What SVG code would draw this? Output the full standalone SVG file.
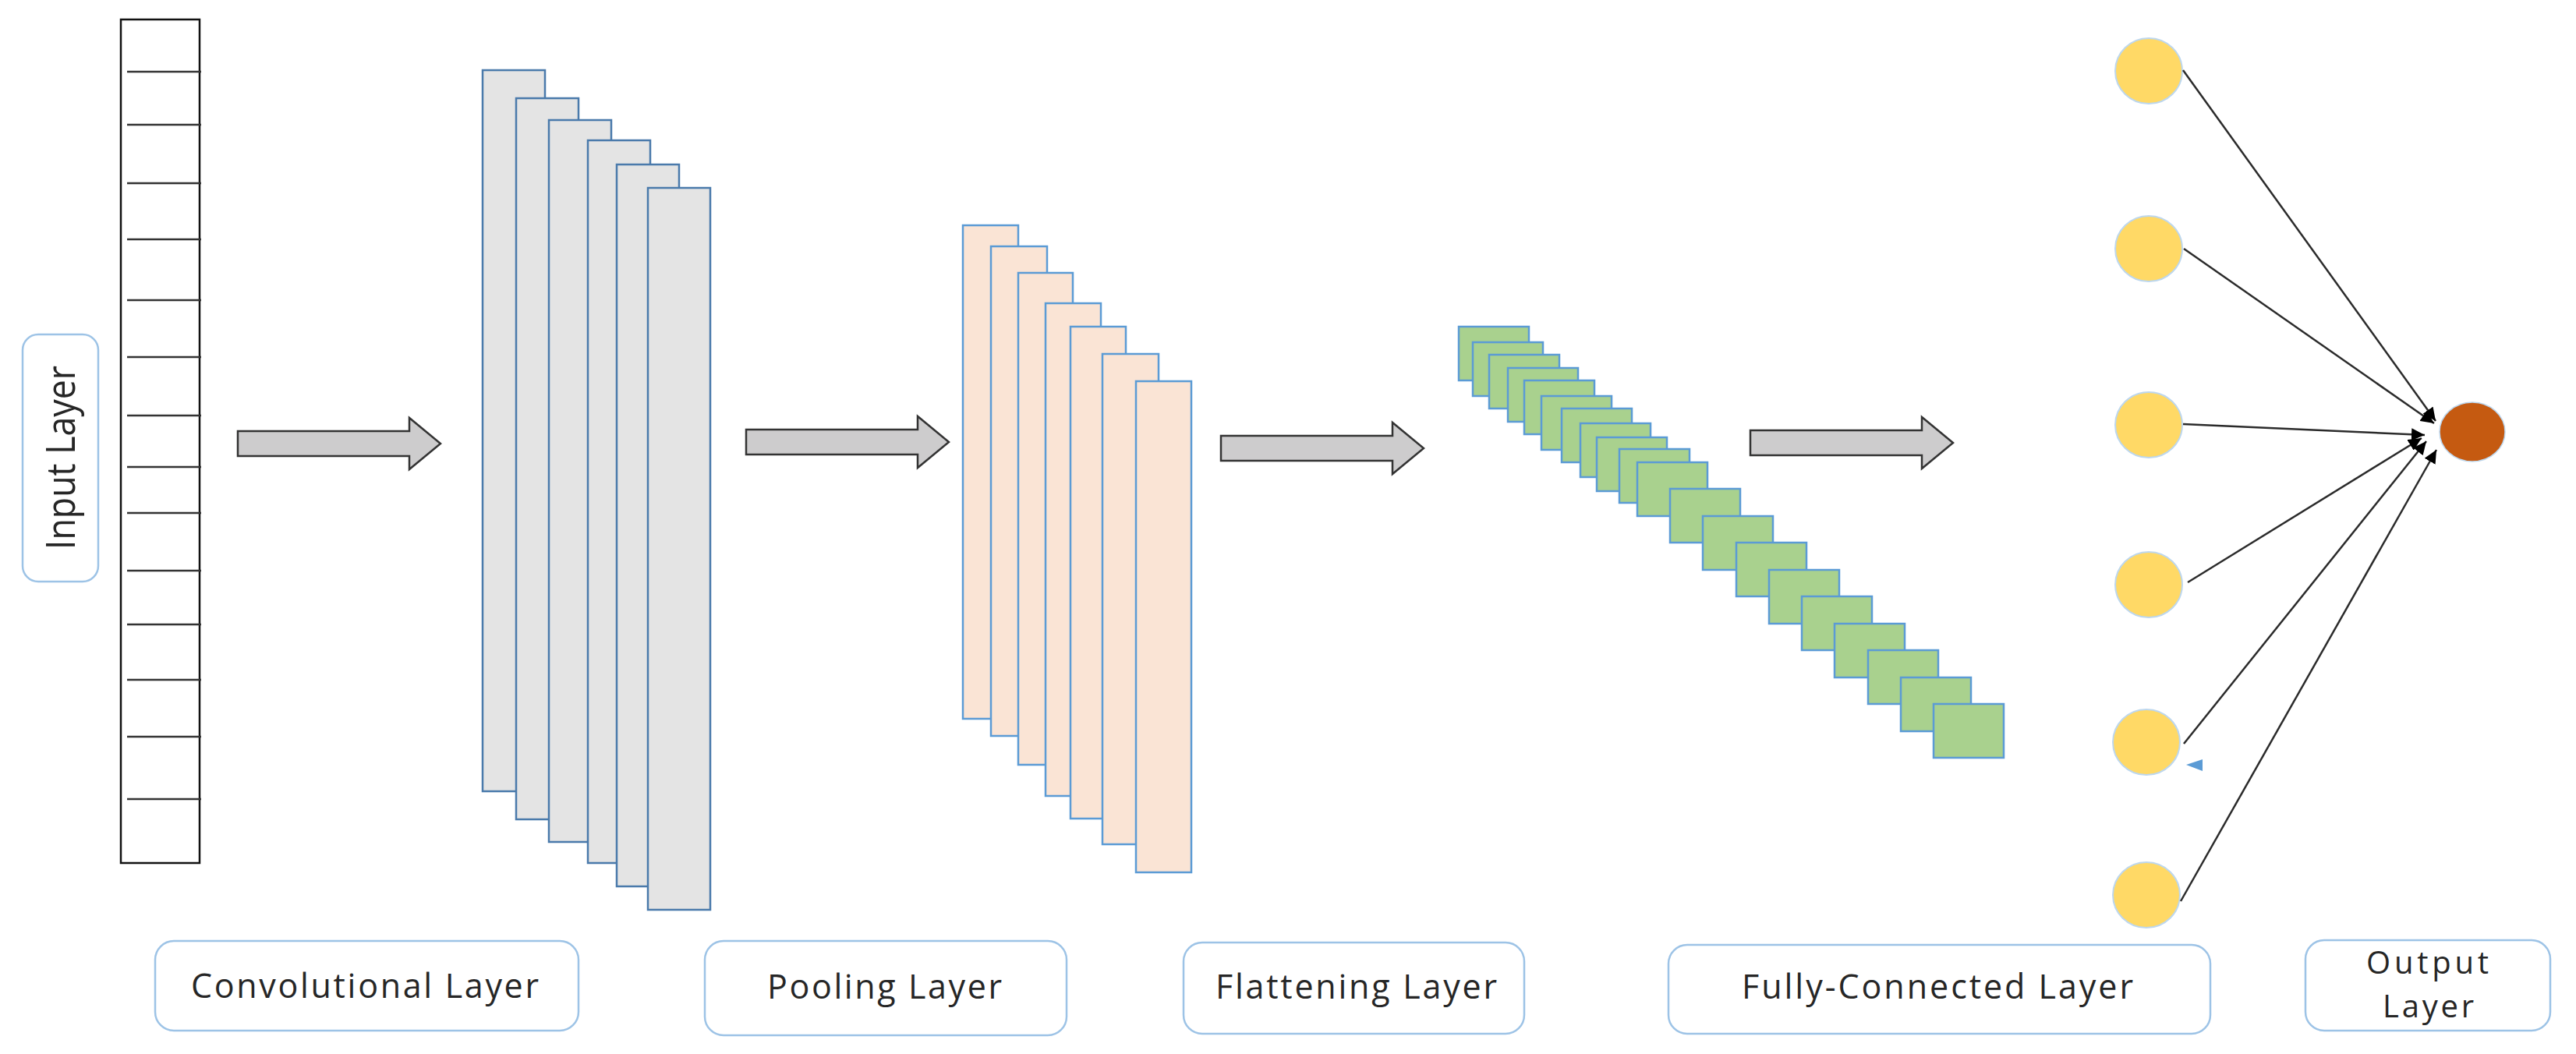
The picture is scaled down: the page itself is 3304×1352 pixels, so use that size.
<svg xmlns="http://www.w3.org/2000/svg" xmlns:xlink="http://www.w3.org/1999/xlink" width="3304" height="1352" viewBox="0 0 3304 1352">
<style>
.lbl{fill:#fff;stroke:#9dc3e6;stroke-width:2.5}
.txt{font-family:"Open Sans","Noto Sans","Liberation Sans",sans-serif;font-size:43px;fill:#262626}
.grid{stroke:#333;stroke-width:2.5}
.conv{fill:#e4e4e4;stroke:#4a7aab;stroke-width:2.5}
.pool{fill:#fae4d5;stroke:#5b9bd5;stroke-width:2.5}
.flat{fill:#a9d18e;stroke:#5b9bd5;stroke-width:2.5}
.hid{fill:#ffd966;stroke:#bdd7ee;stroke-width:2}
.out{fill:#c55a11;stroke:#bdd7ee;stroke-width:1.5}
.blk{fill:#cdcccd;stroke:#333;stroke-width:2.5;stroke-linejoin:miter}
.edge{stroke:#2b2b2b;stroke-width:2.5;fill:none;marker-end:url(#ah)}
</style>
<defs>
<marker id="ah" markerUnits="userSpaceOnUse" markerWidth="18" markerHeight="16" refX="17" refY="8" orient="auto">
<path d="M0,0 L17,8 L0,16 z" fill="#000"/>
</marker>
<path id="barrow" d="M0,-16 L220,-16 L220,-33 L260,0 L220,33 L220,16 L0,16 z"/>
</defs>
<rect width="3304" height="1352" fill="#fff"/>

<g id="input-layer">
<rect x="155" y="25" width="101" height="1082" fill="#fff" stroke="#111" stroke-width="2.5"/>
<g class="grid">
<line x1="163" y1="92" x2="258" y2="92"/>
<line x1="163" y1="160" x2="258" y2="160"/>
<line x1="163" y1="235" x2="258" y2="235"/>
<line x1="163" y1="307" x2="258" y2="307"/>
<line x1="163" y1="385" x2="258" y2="385"/>
<line x1="163" y1="458" x2="258" y2="458"/>
<line x1="163" y1="533" x2="258" y2="533"/>
<line x1="163" y1="599" x2="258" y2="599"/>
<line x1="163" y1="658" x2="258" y2="658"/>
<line x1="163" y1="732" x2="258" y2="732"/>
<line x1="163" y1="801" x2="258" y2="801"/>
<line x1="163" y1="872" x2="258" y2="872"/>
<line x1="163" y1="945" x2="258" y2="945"/>
<line x1="163" y1="1025" x2="258" y2="1025"/>
</g>
</g>

<g id="input-label">
<rect class="lbl" x="29" y="429" width="97" height="317" rx="20"/>
<text class="txt" style="font-size:52px" transform="translate(96,587) rotate(-90)" x="-118" y="0" textLength="236" lengthAdjust="spacingAndGlyphs">Input Layer</text>
</g>

<g id="conv-layer">
<rect class="conv" x="619" y="90" width="80" height="925"/>
<rect class="conv" x="662" y="126" width="80" height="925"/>
<rect class="conv" x="704" y="154" width="80" height="926"/>
<rect class="conv" x="754" y="180" width="80" height="927"/>
<rect class="conv" x="791" y="211" width="80" height="926"/>
<rect class="conv" x="831" y="241" width="80" height="926"/>
</g>

<g id="pool-layer">
<rect class="pool" x="1235" y="289" width="71" height="633"/>
<rect class="pool" x="1271" y="316" width="72" height="628"/>
<rect class="pool" x="1306" y="350" width="70" height="631"/>
<rect class="pool" x="1341" y="389" width="71" height="632"/>
<rect class="pool" x="1373" y="419" width="71" height="631"/>
<rect class="pool" x="1414" y="454" width="72" height="629"/>
<rect class="pool" x="1457" y="489" width="71" height="630"/>
</g>

<g id="flatten-layer">
<rect class="flat" x="1871" y="419" width="90" height="69"/>
<rect class="flat" x="1889" y="439" width="90" height="69"/>
<rect class="flat" x="1910" y="455" width="90" height="69"/>
<rect class="flat" x="1934" y="472" width="90" height="69"/>
<rect class="flat" x="1955" y="488" width="90" height="69"/>
<rect class="flat" x="1977" y="508" width="90" height="69"/>
<rect class="flat" x="2003" y="524" width="90" height="69"/>
<rect class="flat" x="2027" y="543" width="90" height="69"/>
<rect class="flat" x="2048" y="561" width="90" height="69"/>
<rect class="flat" x="2077" y="576" width="90" height="69"/>
<rect class="flat" x="2100" y="593" width="90" height="69"/>
<rect class="flat" x="2142" y="627" width="90" height="69"/>
<rect class="flat" x="2184" y="662" width="90" height="69"/>
<rect class="flat" x="2227" y="696" width="90" height="69"/>
<rect class="flat" x="2269" y="731" width="90" height="69"/>
<rect class="flat" x="2311" y="765" width="90" height="69"/>
<rect class="flat" x="2353" y="800" width="90" height="69"/>
<rect class="flat" x="2396" y="834" width="90" height="69"/>
<rect class="flat" x="2438" y="869" width="90" height="69"/>
<rect class="flat" x="2480" y="903" width="90" height="69"/>
</g>

<g id="fc-layer">
<ellipse class="hid" cx="2756" cy="91" rx="43" ry="42"/>
<ellipse class="hid" cx="2756" cy="319" rx="43" ry="42"/>
<ellipse class="hid" cx="2756" cy="545" rx="43" ry="42"/>
<ellipse class="hid" cx="2756" cy="750" rx="43" ry="42"/>
<ellipse class="hid" cx="2753" cy="952" rx="43" ry="42"/>
<ellipse class="hid" cx="2753" cy="1148" rx="43" ry="42"/>
<polygon points="2804,981 2825,974 2825,989" fill="#5b9bd5"/>
</g>

<g id="output-node">
<ellipse class="out" cx="3171" cy="554" rx="42" ry="38"/>
</g>

<g id="connectors">
<use xlink:href="#barrow" class="blk" transform="translate(305,569)"/>
<use xlink:href="#barrow" class="blk" transform="translate(957,567)"/>
<use xlink:href="#barrow" class="blk" transform="translate(1566,575)"/>
<use xlink:href="#barrow" class="blk" transform="translate(2245,568)"/>
<line class="edge" x1="2800" y1="90" x2="3124" y2="540"/>
<line class="edge" x1="2801" y1="319" x2="3122" y2="543"/>
<line class="edge" x1="2800" y1="544" x2="3110" y2="558"/>
<line class="edge" x1="2806" y1="747" x2="3106" y2="562"/>
<line class="edge" x1="2801" y1="954" x2="3112" y2="566"/>
<line class="edge" x1="2797" y1="1156" x2="3125" y2="577"/>
</g>

<g id="conv-label">
<rect class="lbl" x="199" y="1207" width="543" height="115" rx="24"/>
<text class="txt" x="245" y="1280" textLength="446" lengthAdjust="spacing">Convolutional Layer</text>
</g>
<g id="pool-label">
<rect class="lbl" x="904" y="1207" width="464" height="121" rx="24"/>
<text class="txt" x="984" y="1281" textLength="301" lengthAdjust="spacing">Pooling Layer</text>
</g>
<g id="flatten-label">
<rect class="lbl" x="1518" y="1209" width="437" height="117" rx="24"/>
<text class="txt" x="1559" y="1281" textLength="361" lengthAdjust="spacing">Flattening Layer</text>
</g>
<g id="fc-label">
<rect class="lbl" x="2140" y="1212" width="695" height="114" rx="24"/>
<text class="txt" x="2234" y="1281" textLength="502" lengthAdjust="spacing">Fully-Connected Layer</text>
</g>
<g id="output-label">
<rect class="lbl" x="2957" y="1206" width="314" height="116" rx="24"/>
<text class="txt" style="font-size:40px" x="3035" y="1249" textLength="157" lengthAdjust="spacing">Output</text>
<text class="txt" style="font-size:40px" x="3056" y="1305" textLength="117" lengthAdjust="spacing">Layer</text>
</g>
</svg>
